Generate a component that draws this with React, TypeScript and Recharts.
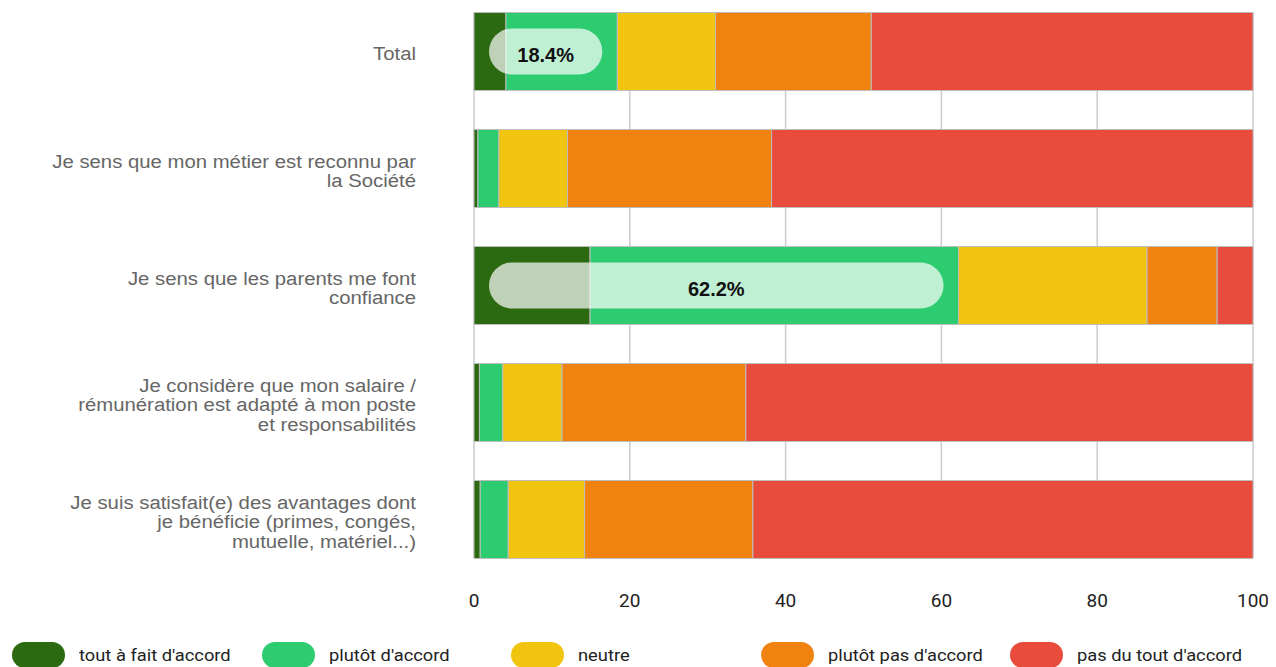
import React from "react";
import { BarChart, Bar, XAxis, YAxis, CartesianGrid, Legend, LabelList } from "recharts";

// questions (line breaks as shown on the axis)
const categories = [
  "Total",
  "Je sens que mon métier est reconnu par\nla Société",
  "Je sens que les parents me font\nconfiance",
  "Je considère que mon salaire /\nrémunération est adapté à mon poste\net responsabilités",
  "Je suis satisfait(e) des avantages dont\nje bénéficie (primes, congés,\nmutuelle, matériel...)",
];

// percentages per answer
const toutAFait = [4.1, 0.5, 14.9, 0.7, 0.8];
const plutot = [14.3, 2.7, 47.3, 3.0, 3.6];
const neutre = [12.6, 8.8, 24.2, 7.6, 9.8];
const plutotPas = [20.0, 26.2, 9.0, 23.6, 21.6];
const pasDuTout = [49.0, 61.8, 4.6, 65.1, 64.2];

const seriesKeys = ["toutAFait", "plutot", "neutre", "plutotPas", "pasDuTout"];
const seriesNames = ["tout à fait d'accord", "plutôt d'accord", "neutre", "plutôt pas d'accord", "pas du tout d'accord"];
const seriesColors = ["#2b6a11", "#2ecc71", "#f1c40f", "#f0830f", "#e74c3c"];

const xTicks = [0, 20, 40, 60, 80, 100];

const rows = categories.map((label, i) => ({
  label,
  toutAFait: toutAFait[i],
  plutot: plutot[i],
  neutre: neutre[i],
  plutotPas: plutotPas[i],
  pasDuTout: pasDuTout[i],
  agree: Math.round((toutAFait[i] + plutot[i]) * 10) / 10,
}));

// the original text is slightly stretched horizontally
const stretch = (cx: number, s: number) => `translate(${cx},0) scale(${s},1) translate(${-cx},0)`;

const YTick = (props: any) => {
  const { x, y, payload } = props;
  const lines = String(payload.value).split("\n");
  const lh = 19.5;
  const tx = x - 58;
  const y0 = y + 3 - ((lines.length - 1) * lh) / 2;
  return (
    <text
      x={tx}
      y={y0}
      textAnchor="end"
      fill="#666"
      fontSize={18}
      fontFamily="'Liberation Sans', Arial, sans-serif"
      transform={stretch(tx, 1.13)}
    >
      {lines.map((l, i) => (
        <tspan key={i} x={tx} y={y0 + i * lh} dy="0.355em">
          {l}
        </tspan>
      ))}
    </text>
  );
};

const XTick = (props: any) => {
  const { x, y, payload } = props;
  return (
    <text x={x} y={y + 49} textAnchor="middle" fill="#222" fontSize={19} fontFamily="Roboto, sans-serif">
      {payload.value}
    </text>
  );
};

// pill with the share of agreement, drawn over the two green segments
const AgreePill = (props: any) => {
  const vb = props.viewBox ?? props;
  const { x, y, width, height } = vb;
  const value = Number(props.value);
  const index = props.index;
  if (!(value >= 10) || index == null) return null;
  const unit = width / plutot[index];
  const left = x + width - value * unit + 15;
  const right = x + width - 15;
  const h = 46;
  const cy = y + height / 2;
  return (
    <g>
      <rect x={left} y={cy - h / 2} width={right - left} height={h} rx={h / 2} fill="#fff" fillOpacity={0.7} />
      <text
        x={(left + right) / 2}
        y={cy + 3}
        dy="0.355em"
        textAnchor="middle"
        fontWeight="bold"
        fontSize={20}
        fill="#111"
        fontFamily="'Liberation Sans', Arial, sans-serif"
      >
        {value.toFixed(1)}%
      </text>
    </g>
  );
};

const LegendContent = () => (
  <div style={{ height: 30, display: "flex", paddingTop: 5, paddingLeft: 4, boxSizing: "border-box" }}>
    {seriesNames.map((name, i) => (
      <div key={name} style={{ width: 249.5, display: "flex", alignItems: "center", height: 26 }}>
        <span style={{ width: 53, height: 26, borderRadius: 13, background: seriesColors[i], display: "inline-block" }} />
        <span
          style={{
            marginLeft: 14,
            fontSize: 17,
            color: "#222",
            fontFamily: "Roboto, sans-serif",
            display: "inline-block",
            transform: "scaleX(1.077)",
            transformOrigin: "left center",
            whiteSpace: "nowrap",
          }}
        >
          {name}
        </span>
      </div>
    ))}
  </div>
);

export default function App() {
  return (
    <BarChart
      width={1268}
      height={659}
      data={rows}
      layout="vertical"
      margin={{ top: 4, right: 23, left: 0, bottom: 0 }}
    >
      <CartesianGrid horizontal={false} stroke="#cccccc" strokeWidth={1.5} />
      <XAxis
        type="number"
        domain={[0, 100]}
        ticks={xTicks}
        axisLine={false}
        tickLine={false}
        tickSize={0}
        tickMargin={0}
        height={79}
        tick={<XTick />}
        interval={0}
      />
      <YAxis
        type="category"
        dataKey="label"
        width={466}
        axisLine={false}
        tickLine={false}
        tickSize={0}
        tickMargin={0}
        padding={{ top: -19.5, bottom: -19.5 }}
        tick={<YTick />}
        interval={0}
      />
      <Legend verticalAlign="bottom" content={<LegendContent />} wrapperStyle={{ left: 0, width: 1268 }} />
      {seriesKeys.map((k, i) => (
        <Bar
          key={k}
          dataKey={k}
          name={seriesNames[i]}
          stackId="a"
          fill={seriesColors[i]}
          stroke="#bdbdbd"
          strokeWidth={1}
          barSize={78}
          isAnimationActive={false}
        >
          {k === "plutot" ? <LabelList dataKey="agree" content={<AgreePill />} /> : null}
        </Bar>
      ))}
    </BarChart>
  );
}
